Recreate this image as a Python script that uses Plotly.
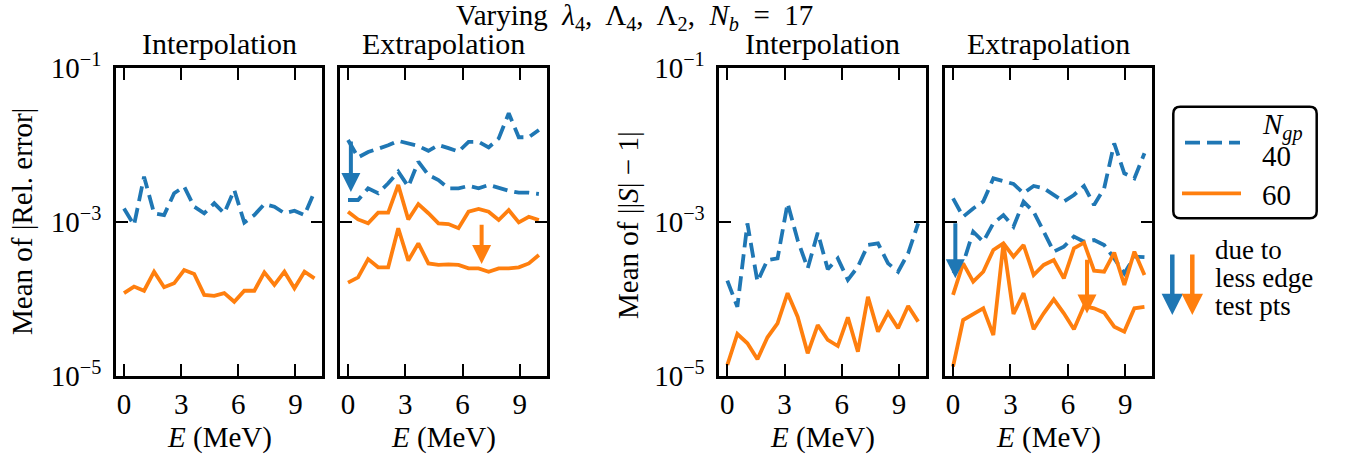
import math
import plotly.graph_objects as go

W, H = 1353, 456
FONT = "'Liberation Serif', 'Times New Roman', 'DejaVu Serif', serif"
BLUE = "#1f77b4"
ORANGE = "#ff7f0e"

# ---------------- data ----------------
E_MeV = [0.0, 0.526, 1.053, 1.579, 2.105, 2.632, 3.158, 3.684, 4.211, 4.737,
         5.263, 5.789, 6.316, 6.842, 7.368, 7.895, 8.421, 8.947, 9.474, 10.0]

# Mean of |Rel. error|
relerr_interp_40 = [1.50e-3, 9.1e-4, 3.88e-3, 1.30e-3, 1.23e-3, 2.36e-3, 2.88e-3, 1.58e-3, 1.30e-3, 1.75e-3,
                    1.30e-3, 2.61e-3, 9.8e-4, 1.23e-3, 1.71e-3, 1.58e-3, 1.30e-3, 1.40e-3, 1.23e-3, 2.48e-3]
relerr_interp_60 = [1.19e-4, 1.45e-4, 1.28e-4, 2.26e-4, 1.42e-4, 1.60e-4, 2.38e-4, 2.11e-4, 1.13e-4, 1.10e-4,
                    1.19e-4, 9.2e-5, 1.28e-4, 1.28e-4, 2.22e-4, 1.52e-4, 2.26e-4, 1.38e-4, 2.26e-4, 1.85e-4]
relerr_extrap_40_a = [1.16e-2, 6.9e-3, 8.1e-3, 8.9e-3, 9.9e-3, 1.13e-2, 1.04e-2, 9.7e-3, 8.4e-3, 1.0e-2,
                      9.1e-3, 8.2e-3, 1.10e-2, 1.10e-2, 9.3e-3, 1.22e-2, 2.58e-2, 1.26e-2, 1.26e-2, 1.57e-2]
relerr_extrap_40_b = [1.93e-3, 1.93e-3, 2.74e-3, 2.36e-3, 3.18e-3, 4.51e-3, 2.88e-3, 6.08e-3, 4.08e-3, 3.51e-3,
                      2.74e-3, 2.74e-3, 2.94e-3, 2.74e-3, 3.03e-3, 2.74e-3, 2.55e-3, 2.40e-3, 2.40e-3, 2.31e-3]
relerr_extrap_60_a = [1.36e-3, 1.08e-3, 9.6e-4, 1.32e-3, 1.32e-3, 3.03e-3, 1.08e-3, 1.71e-3, 1.30e-3, 9.6e-4,
                      9.4e-4, 8.3e-4, 1.36e-3, 1.48e-3, 1.36e-3, 1.06e-3, 1.43e-3, 9.9e-4, 1.17e-3, 1.06e-3]
relerr_extrap_60_b = [1.63e-4, 1.91e-4, 3.30e-4, 2.58e-4, 2.58e-4, 8.3e-4, 3.15e-4, 5.28e-4, 2.90e-4, 2.77e-4,
                      2.82e-4, 2.77e-4, 2.50e-4, 2.50e-4, 2.26e-4, 2.50e-4, 2.50e-4, 2.58e-4, 2.90e-4, 3.73e-4]

# Mean of ||S| - 1|
smat_interp_40 = [1.73e-4, 7.9e-5, 9.6e-4, 1.68e-4, 3.21e-4, 3.37e-4, 1.75e-3, 5.83e-4, 2.50e-4, 7.27e-4,
                  2.43e-4, 3.37e-4, 1.77e-4, 2.63e-4, 5.03e-4, 5.28e-4, 2.90e-4, 2.26e-4, 3.92e-4, 9.6e-4]
smat_interp_60 = [1.39e-5, 3.51e-5, 2.66e-5, 1.65e-5, 3.18e-5, 4.83e-5, 1.19e-4, 5.90e-5, 1.97e-5, 4.59e-5,
                  2.94e-5, 2.45e-5, 5.78e-5, 2.07e-5, 1.07e-4, 3.77e-5, 6.65e-5, 4.16e-5, 8.1e-5, 5.08e-5]
smat_extrap_40_a = [2.03e-3, 1.17e-3, 1.50e-3, 1.84e-3, 3.69e-3, 3.44e-3, 3.12e-3, 2.36e-3, 2.94e-3, 2.74e-3,
                    2.24e-3, 1.84e-3, 2.24e-3, 2.94e-3, 1.66e-3, 2.74e-3, 1.05e-2, 4.29e-3, 3.69e-3, 7.80e-3]
smat_extrap_40_b = [2.15e-4, 2.90e-4, 7.48e-4, 5.55e-4, 9.6e-4, 1.23e-3, 8.7e-4, 1.84e-3, 1.36e-3, 7.48e-4,
                    4.12e-4, 4.79e-4, 6.45e-4, 5.55e-4, 5.83e-4, 5.03e-4, 3.37e-4, 2.15e-4, 3.55e-4, 3.50e-4]
smat_extrap_60_a = [1.13e-4, 2.90e-4, 1.68e-4, 2.26e-4, 4.33e-4, 5.28e-4, 3.55e-4, 5.03e-4, 2.05e-4, 2.77e-4,
                    3.21e-4, 1.85e-4, 4.55e-4, 5.39e-4, 2.33e-4, 2.26e-4, 4.00e-4, 1.52e-4, 4.12e-4, 2.05e-4]
smat_extrap_60_b = [1.32e-5, 5.33e-5, 6.38e-5, 7.57e-5, 3.40e-5, 5.28e-4, 6.38e-5, 1.19e-4, 4.04e-5, 6.52e-5,
                    9.9e-5, 6.52e-5, 4.04e-5, 8.1e-5, 7.57e-5, 6.65e-5, 4.37e-5, 3.77e-5, 7.57e-5, 7.9e-5]

# "less edge test pts" arrows: (E, tail value, tip value)
relerr_arrow_40 = (0.15, 1.16e-2, 2.45e-3)
relerr_arrow_60 = (7.0, 9.6e-4, 2.85e-4)
smat_arrow_40 = (0.12, 1.01e-3, 1.86e-4)
smat_arrow_60 = (7.0, 3.38e-4, 6.5e-5)

x_ticks = [0, 3, 6, 9]
y_ticks = [1e-5, 1e-3, 1e-1]
y_ticktext = ["10<sup>−5</sup>", "10<sup>−3</sup>", "10<sup>−1</sup>"]
legend_labels = ["40", "60"]

# ---------------- figure ----------------
fig = go.Figure()

def px_x(p):
    return p / W

def px_y(p):
    return 1 - p / H

DASH = "15px,7px"
LW = 3.8
panels = [
    ("x", "y", [(relerr_interp_40, BLUE, DASH), (relerr_interp_60, ORANGE, "solid")]),
    ("x2", "y2", [(relerr_extrap_40_a, BLUE, DASH), (relerr_extrap_40_b, BLUE, DASH),
                  (relerr_extrap_60_a, ORANGE, "solid"), (relerr_extrap_60_b, ORANGE, "solid")]),
    ("x3", "y3", [(smat_interp_40, BLUE, DASH), (smat_interp_60, ORANGE, "solid")]),
    ("x4", "y4", [(smat_extrap_40_a, BLUE, DASH), (smat_extrap_40_b, BLUE, DASH),
                  (smat_extrap_60_a, ORANGE, "solid"), (smat_extrap_60_b, ORANGE, "solid")]),
]
for xa, ya, series in panels:
    for vals, col, dash in series:
        fig.add_trace(go.Scatter(x=E_MeV, y=vals, mode="lines", xaxis=xa, yaxis=ya,
                                 line=dict(color=col, width=LW, dash=dash), showlegend=False,
                                 hoverinfo="skip"))

x_dom_px = [(116, 322.3), (340, 546.7), (719.3, 926), (945, 1152.3)]
y_dom = [px_y(376), px_y(68)]
tickfont = dict(family=FONT, size=29, color="black")

layout_axes = {}
for i, (a, b) in enumerate(x_dom_px):
    n = "" if i == 0 else str(i + 1)
    layout_axes["xaxis" + n] = dict(
        domain=[px_x(a), px_x(b)], range=[-0.42, 10.41], tickvals=x_ticks,
        ticks="inside", ticklen=12, tickwidth=2, tickcolor="black", mirror="allticks",
        showline=True, linewidth=2.5, linecolor="black", showgrid=False, zeroline=False,
        anchor="y" + n, tickfont=tickfont, fixedrange=True, automargin=False)
    layout_axes["yaxis" + n] = dict(
        domain=y_dom, type="log", range=[-5, -1], tickvals=y_ticks, ticktext=y_ticktext,
        showticklabels=(i in (0, 2)),
        ticks="inside", ticklen=12, tickwidth=2, tickcolor="black", mirror="allticks",
        showline=True, linewidth=2.5, linecolor="black", showgrid=False, zeroline=False,
        anchor="x" + n, tickfont=tickfont, ticklabelstandoff=6, fixedrange=True, automargin=False)

ann = []

def text(x, y, s, size=28, xanchor="center", yanchor="middle", angle=0, align="center", yshift=0):
    ann.append(dict(x=px_x(x), y=px_y(y), xref="paper", yref="paper", text=s, showarrow=False,
                    xanchor=xanchor, yanchor=yanchor, textangle=angle, align=align, yshift=yshift,
                    font=dict(family=FONT, size=size, color="black")))

text(634, 0, "Varying&nbsp; <i>λ</i><sub>4</sub>,&nbsp; Λ<sub>4</sub>,&nbsp; Λ<sub>2</sub>,&nbsp; "
             "<i>N</i><sub><i>b</i></sub>&nbsp; =&nbsp; 17", size=29, yanchor="top", yshift=3)
for (a, b), t in zip(x_dom_px, ["Interpolation", "Extrapolation", "Interpolation", "Extrapolation"]):
    text((a + b) / 2, 44, t, size=30)
    text((a + b) / 2, 437, "<i>E</i> (MeV)", size=29)
text(22, 222, "Mean of |Rel. error|", angle=-90, size=29)
text(628, 225, "Mean of ||<i>S</i>| − 1|", angle=-90, size=29)

# legend
text(1260, 127, "<i>N<sub>gp</sub></i>", xanchor="left", size=29)
text(1260, 156, legend_labels[0], xanchor="left", size=29)
text(1260, 195, legend_labels[1], xanchor="left", size=29)
SP = '<span style="font-size:27px">'
text(1213, 278, SP + "due to</span><br>" + SP + "less edge</span><br>" + SP + "test pts</span>",
     size=21.5, xanchor="left", align="left")

# arrows in the data panels
for (ex, tail, tip), col, xa, ya in [
    (relerr_arrow_40, BLUE, "x2", "y2"), (relerr_arrow_60, ORANGE, "x2", "y2"),
    (smat_arrow_40, BLUE, "x4", "y4"), (smat_arrow_60, ORANGE, "x4", "y4")]:
    ann.append(dict(x=ex, y=math.log10(tip), ax=ex, ay=math.log10(tail), xref=xa, yref=ya,
                    axref=xa, ayref=ya, showarrow=True, arrowhead=2, arrowsize=0.95,
                    arrowwidth=4, arrowcolor=col, text="", standoff=0))

# arrows next to legend
for xp, col in [(1172.3, BLUE), (1192.3, ORANGE)]:
    ann.append(dict(x=px_x(xp), y=px_y(315), xref="paper", yref="paper", ax=0, ay=-62,
                    showarrow=True, arrowhead=2, arrowsize=0.95, arrowwidth=4.5,
                    arrowcolor=col, text="", standoff=0))

shapes = []
L, R, T, B, r = 1173.3, 1316.7, 106.7, 218.3, 7

def P(a, b):
    return f"{px_x(a):.5f},{px_y(b):.5f}"

path = (f"M {P(L + r, T)} L {P(R - r, T)} Q {P(R, T)} {P(R, T + r)} L {P(R, B - r)} "
        f"Q {P(R, B)} {P(R - r, B)} L {P(L + r, B)} Q {P(L, B)} {P(L, B - r)} "
        f"L {P(L, T + r)} Q {P(L, T)} {P(L + r, T)} Z")
shapes.append(dict(type="path", xref="paper", yref="paper", path=path,
                   line=dict(color="black", width=2.5), fillcolor="rgba(255,255,255,0.8)"))
shapes.append(dict(type="line", xref="paper", yref="paper", x0=px_x(1185), x1=px_x(1240),
                   y0=px_y(142.7), y1=px_y(142.7), line=dict(color=BLUE, width=LW, dash=DASH)))
shapes.append(dict(type="line", xref="paper", yref="paper", x0=px_x(1182), x1=px_x(1241),
                   y0=px_y(193.3), y1=px_y(193.3), line=dict(color=ORANGE, width=LW)))

fig.update_layout(width=W, height=H, margin=dict(l=0, r=0, t=0, b=0, autoexpand=False), autosize=False,
                  paper_bgcolor="white", plot_bgcolor="white", annotations=ann, shapes=shapes,
                  font=dict(family=FONT, color="black"), **layout_axes)

fig.write_html("out.html", config={"displayModeBar": False},
               post_script="document.body.style.margin='0px';document.body.style.padding='0px';")
